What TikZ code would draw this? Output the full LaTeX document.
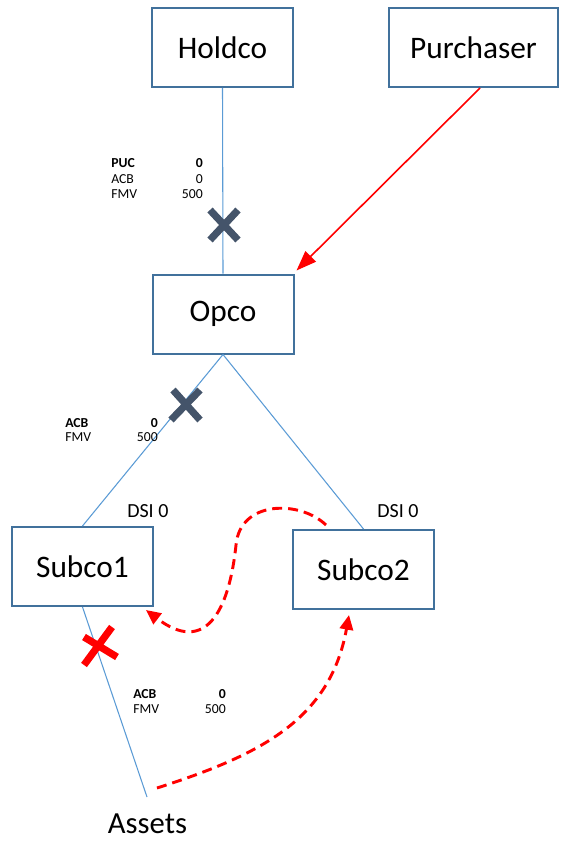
\documentclass[tikz,border=0pt]{standalone}
\usepackage{fontspec}
\setmainfont{Carlito}
\usetikzlibrary{arrows.meta,calc}
\definecolor{boxblue}{HTML}{41719C}
\definecolor{lineblue}{HTML}{5B9BD5}
\definecolor{xgray}{HTML}{44546A}
\begin{document}
\begin{tikzpicture}[x=0.75pt,y=-0.75pt,
  entity/.style={draw=boxblue, line width=1.5pt, fill=white, minimum width=105.75pt,
    minimum height=59.25pt, inner sep=0pt, font=\fontsize{23.5}{27}\selectfont},
  conn/.style={draw=lineblue, line width=0.8pt},
  small/.style={inner sep=0pt, font=\fontsize{10.3}{12}\selectfont},
  dsi/.style={inner sep=0pt, font=\fontsize{15}{17}\selectfont, anchor=base west},
  xmark/.style={line width=5.4pt},
  redflow/.style={draw=red, line width=2.2pt, dash pattern=on 7.5pt off 4.5pt,
    -{Triangle[length=11pt,width=10pt]}}]
\useasboundingbox (0,0) rectangle (566,842);

% entities
\node[entity] (hold) at (222.5,47.5) {Holdco};
\node[entity, minimum width=126.75pt] (pur) at (473.5,47.5) {Purchaser};
\node[entity] (opco) at (223,314) {Opco};
\node[entity] (sub1) at (82.5,566.5) {Subco1};
\node[entity] (sub2) at (363.5,569.5) {Subco2};
\node[inner sep=0pt, anchor=base, font=\fontsize{23}{27}\selectfont] (assets) at (147.5,833.5) {Assets};
\coordinate (aend) at (147,797);

% ownership lines
\draw[conn] (hold.south) -- (opco.north);
\draw[conn] (opco.south) -- (sub1.north);
\draw[conn] (opco.south) -- (sub2.north);
\draw[conn] (sub1.south) -- (aend);

% purchaser arrow
\draw[red, line width=1.2pt, -{Triangle[length=15pt,width=11pt]}]
  ([xshift=4.9pt]pur.south) -- ([shift={(1.5pt,2.25pt)}]opco.north east);

% crosses
\draw[xgray, xmark] (210,210) -- (238,240) (238,210) -- (210,240);
\draw[xgray, xmark] (173,390) -- (200,420) (200,390) -- (171,420);
\draw[red, xmark] (84,637) -- (117,657) (112,627) -- (84,665);

% value tables
\node[small, anchor=base west] (puc1) at (111,167) {\textbf{PUC}};
\node[small, anchor=base east] (pucv1) at (203,167) {\textbf{0}};
\node[small, anchor=base west] (acb1) at (111,183) {ACB};
\node[small, anchor=base east] (acbv1) at (203,183) {0};
\node[small, anchor=base west] (fmv1) at (111,198) {FMV};
\node[small, anchor=base east] (fmvv1) at (203,198) {500};

\node[small, anchor=base west] (acb2) at (65,427) {\textbf{ACB}};
\node[small, anchor=base east] (acbv2) at (158,427) {\textbf{0}};
\node[small, anchor=base west] (fmv2) at (65,441) {FMV};
\node[small, anchor=base east] (fmvv2) at (158,441) {500};

\node[small, anchor=base west] (acb3) at (133,698) {\textbf{ACB}};
\node[small, anchor=base east] (acbv3) at (226,698) {\textbf{0}};
\node[small, anchor=base west] (fmv3) at (133,713) {FMV};
\node[small, anchor=base east] (fmvv3) at (226,713) {500};

% DSI labels
\node[dsi] (dsi1) at (127,517) {DSI 0};
\node[dsi] (dsi2) at (377,517) {DSI 0};

% red dashed flows
\coordinate (f1s) at (326,525);
\coordinate (f1t) at (146,610);
\draw[redflow] (f1s) .. controls (300,500) and (240,500) .. (236,545)
  .. controls (229,612) and (205,655) .. (f1t);
\coordinate (f2s) at (157,788);
\coordinate (f2t) at (349,615);
\draw[redflow] (f2s) .. controls (260,755) and (330,720) .. (f2t);
\end{tikzpicture}
\end{document}
